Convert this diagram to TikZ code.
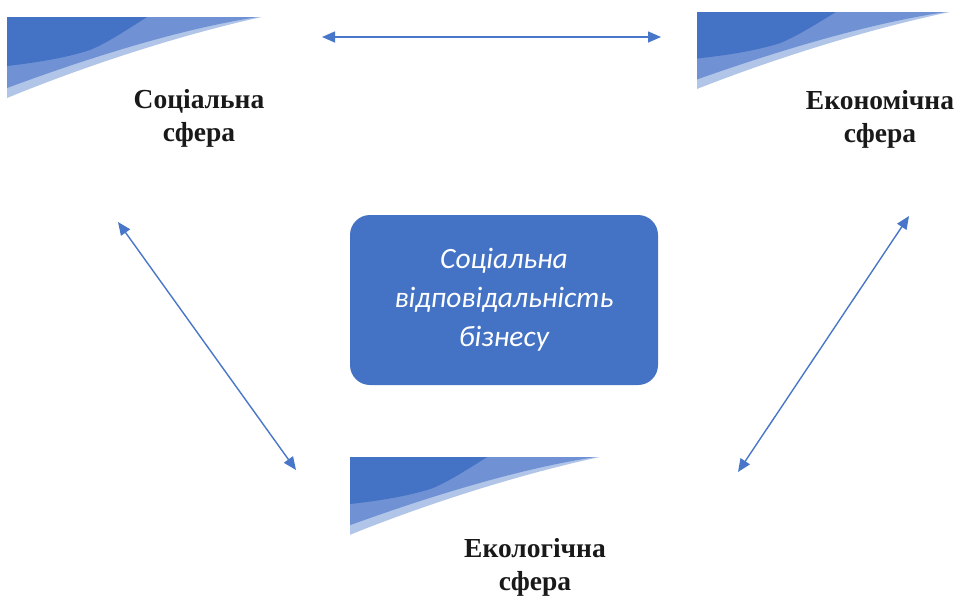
\documentclass[tikz,border=0pt]{standalone}
\usepackage{fontspec}
\setmainfont{Liberation Serif}
\newfontfamily\boxfont{Carlito}
\usetikzlibrary{arrows.meta}
\definecolor{bdark}{RGB}{68,114,196}
\definecolor{bmed}{RGB}{112,146,212}
\definecolor{blight}{RGB}{176,197,232}
\definecolor{arrowblue}{RGB}{72,118,200}
\definecolor{labeltext}{RGB}{25,25,25}
\tikzset{
  x=1pt, y=-1pt,
  sphere/.style={align=center, text=labeltext, font=\fontsize{27.5}{33}\selectfont\bfseries},
  centerbox/.style={draw=none, fill=bdark, rounded corners=20pt, minimum width=308pt, minimum height=170pt,
    align=center, text=white, font=\boxfont\itshape\fontsize{29.5}{39}\selectfont},
  link/.style={draw=arrowblue, line width=1.4pt, {Triangle[length=13pt,width=11pt]}-{Triangle[length=13pt,width=11pt]}},
  pics/banner/.style={code={
    \fill[blight] (0,0) -- (255,0) .. controls (190,14) and (95,42) .. (0,81) -- cycle;
    \fill[bmed] (0,0) -- (251,0) .. controls (185,10) and (100,34) .. (0,71) -- cycle;
    \fill[bdark] (0,0) -- (140,0) .. controls (118,14) and (100,26) .. (83,33) .. controls (55,42) and (25,46) .. (0,49) -- cycle;
  }}
}
\begin{document}
\begin{tikzpicture}
\useasboundingbox (0,0) rectangle (960,600);
\pic at (7,17) {banner};
\pic[xscale=0.992, yscale=0.95] at (697,12) {banner};
\pic[xscale=0.98, yscale=0.96] at (350,457) {banner};

\node[sphere] (soc) at (199,118) {Соціальна\\сфера};
\node[sphere] (eco) at (880,119) {Економічна\\сфера};
\node[sphere] (env) at (535,567) {Екологічна\\сфера};

\node[centerbox] (csr) at (504,300) {Соціальна\\відповідальність\\бізнесу};

\coordinate (a1) at (322,37);
\coordinate (a2) at (661,37);
\coordinate (b1) at (118,222);
\coordinate (b2) at (296,470);
\coordinate (c1) at (909,216);
\coordinate (c2) at (738,472);
\draw[link] (a1) -- (a2);
\draw[link] (b1) -- (b2);
\draw[link] (c1) -- (c2);
\end{tikzpicture}
\end{document}
